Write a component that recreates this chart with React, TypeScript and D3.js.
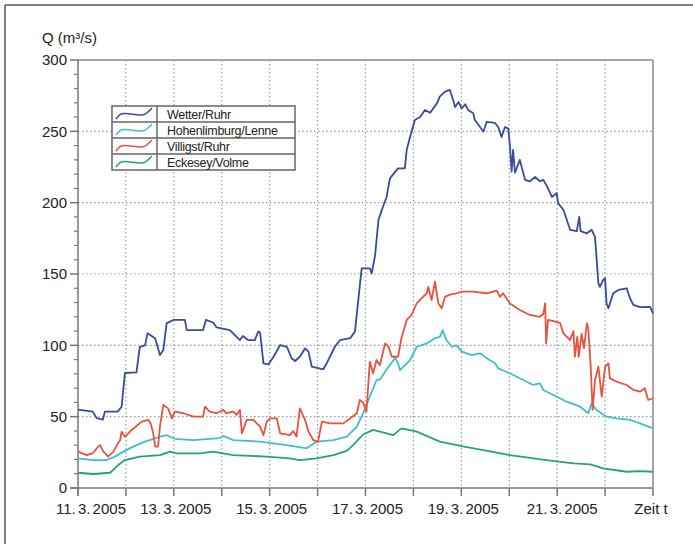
import React from 'react';
import * as d3 from 'd3';

type Pt = [number, number];

const seriesNames = ['Wetter/Ruhr', 'Hohenlimburg/Lenne', 'Villigst/Ruhr', 'Eckesey/Volme'];
const seriesColors = ['#3a4aa0', '#3dbfcf', '#e8523f', '#23a37c'];
const dateLabels = ['11. 3. 2005', '13. 3. 2005', '15. 3. 2005', '17. 3. 2005', '19. 3. 2005', '21. 3. 2005'];
const dateLabelDays = [0, 2, 4, 6, 8, 10];
const endLabel = 'Zeit t';
const yTitle = 'Q (m³/s)';
const yTicks = [0, 50, 100, 150, 200, 250, 300];

// day offset from 11.3.2005, discharge m³/s
const wetterRuhr: Pt[] = [
  [0.0, 55], [0.31, 53.5], [0.39, 49], [0.52, 48], [0.56, 53.5], [0.83, 53.5], [0.91, 57], [0.98, 80.6],
  [1.22, 81], [1.29, 99], [1.4, 100], [1.45, 108.4], [1.61, 105], [1.71, 93.2], [1.78, 96.7], [1.85, 115.4],
  [1.99, 117.8], [2.23, 117.8], [2.27, 110.7], [2.61, 110.7], [2.67, 117.8], [2.82, 116], [2.89, 112.6],
  [3.17, 110.7], [3.31, 106], [3.38, 103.7], [3.44, 106.5], [3.55, 103.7], [3.69, 103.7], [3.76, 109.6],
  [3.8, 109], [3.87, 87.4], [3.97, 86.6], [4.08, 92], [4.22, 100.2], [4.36, 99], [4.46, 90.9], [4.53, 89],
  [4.63, 92], [4.74, 97.9], [4.81, 95.6], [4.88, 85], [5.01, 84], [5.12, 83.2], [5.19, 87.4], [5.36, 99],
  [5.47, 103.7], [5.68, 105], [5.78, 109.6], [5.85, 131.8], [5.92, 154], [6.09, 154], [6.13, 150.5],
  [6.2, 163], [6.27, 187.8], [6.34, 194.9], [6.44, 204], [6.51, 217], [6.58, 220], [6.68, 224], [6.82, 224],
  [6.86, 237], [6.93, 246], [7.03, 258], [7.14, 260], [7.24, 265], [7.35, 263], [7.49, 269.6], [7.55, 274.3],
  [7.66, 277.8], [7.76, 279], [7.83, 272], [7.87, 267], [7.94, 270.6], [8.01, 266], [8.08, 269], [8.14, 265],
  [8.25, 262.6], [8.28, 258], [8.35, 255], [8.46, 249.7], [8.53, 256.7], [8.7, 256], [8.77, 253], [8.84, 246],
  [8.91, 253], [8.98, 252], [9.01, 241.6], [9.05, 221.7], [9.08, 237], [9.12, 221], [9.22, 230], [9.33, 216],
  [9.43, 215], [9.54, 218], [9.64, 215], [9.71, 216], [9.78, 212], [9.89, 204], [9.99, 206.6], [10.02, 199.5],
  [10.13, 195], [10.27, 181], [10.41, 180], [10.46, 190], [10.49, 180], [10.62, 178.5], [10.72, 181],
  [10.79, 176], [10.81, 166.8], [10.86, 143.5], [10.89, 141], [10.96, 145.8], [11.0, 147], [11.03, 129.5],
  [11.07, 126], [11.17, 136.5], [11.28, 138.8], [11.45, 140], [11.52, 133], [11.59, 128.3], [11.73, 126.8],
  [11.94, 127], [12.0, 122.4],
];

const hohenlimburgLenne: Pt[] = [
  [0.0, 20.8], [0.32, 19.6], [0.6, 19.6], [0.77, 22], [0.95, 25.5], [1.15, 29], [1.4, 32.5], [1.71, 36],
  [1.85, 37], [2.02, 34.5], [2.41, 33.6], [2.75, 34.5], [2.96, 35], [3.03, 36.5], [3.24, 33.6], [3.8, 32.5],
  [4.36, 30.1], [4.77, 27.8], [4.98, 32.5], [5.33, 33.6], [5.61, 36], [5.82, 43], [5.95, 52.4], [6.09, 64],
  [6.23, 75.7], [6.3, 76], [6.48, 85], [6.62, 91], [6.68, 87.4], [6.72, 82.7], [6.93, 89.7], [7.07, 99],
  [7.28, 101.4], [7.45, 105], [7.55, 106], [7.61, 110.7], [7.69, 103.7], [7.8, 99], [7.9, 100], [8.01, 95.6],
  [8.22, 93.2], [8.39, 94.4], [8.53, 90.9], [8.7, 87.4], [8.77, 83.9], [9.01, 80.4], [9.22, 76.9], [9.5, 72.2],
  [9.64, 73.4], [9.71, 68.7], [9.92, 65.2], [10.2, 60.5], [10.48, 57], [10.65, 52.4], [10.72, 59.4],
  [10.82, 54.7], [11.03, 50], [11.24, 48.8], [11.52, 47.7], [11.73, 45.3], [12.0, 41.8],
];

const villigstRuhr: Pt[] = [
  [0.0, 25.5], [0.18, 23.1], [0.31, 24.5], [0.39, 27.8], [0.46, 30.1], [0.53, 25.5], [0.63, 22], [0.74, 25.5],
  [0.81, 30], [0.88, 33.6], [0.91, 39.5], [0.98, 35.9], [1.12, 40.7], [1.33, 46.5], [1.47, 47.7], [1.52, 45],
  [1.57, 38.3], [1.61, 29], [1.67, 29], [1.71, 43], [1.78, 58.2], [1.88, 55.8], [1.96, 48.8], [2.02, 53.5],
  [2.2, 52.4], [2.41, 50], [2.61, 50], [2.65, 57], [2.75, 53.5], [2.89, 52.4], [3.03, 54.7], [3.1, 52.4],
  [3.24, 53.5], [3.31, 51.2], [3.38, 54.7], [3.42, 38.3], [3.52, 47.7], [3.66, 47.7], [3.8, 43], [3.87, 37.1],
  [3.94, 46.5], [4.01, 48.8], [4.15, 48.8], [4.22, 38.3], [4.42, 37], [4.49, 40], [4.56, 36], [4.63, 55.8],
  [4.74, 47.7], [4.81, 39.5], [4.91, 33.6], [5.01, 32.5], [5.09, 46.5], [5.26, 45.3], [5.54, 45.3],
  [5.68, 48.8], [5.82, 52.4], [5.88, 61.7], [5.95, 60], [6.02, 53.5], [6.09, 88.5], [6.16, 80.4], [6.23, 89.7],
  [6.3, 86], [6.41, 101.4], [6.48, 99], [6.55, 92], [6.68, 92], [6.75, 105], [6.86, 117.8], [6.96, 121.3],
  [7.07, 129.5], [7.17, 133], [7.28, 136.5], [7.31, 141], [7.38, 131.8], [7.45, 144.6], [7.52, 129.5],
  [7.59, 126], [7.66, 134], [7.76, 135.5], [7.9, 136.5], [8.01, 137.6], [8.25, 137.6], [8.53, 136.5],
  [8.74, 138.3], [8.81, 134], [8.87, 136.5], [9.01, 129.5], [9.22, 124.8], [9.43, 121.3], [9.64, 120],
  [9.71, 122], [9.75, 129.5], [9.77, 101.4], [9.81, 117.8], [9.92, 117], [10.06, 115.7], [10.13, 108.4],
  [10.27, 103.7], [10.34, 110], [10.37, 92], [10.42, 106], [10.45, 92], [10.51, 108], [10.56, 98],
  [10.62, 115.4], [10.65, 112], [10.7, 85], [10.74, 54.7], [10.79, 75.7], [10.86, 85], [10.93, 64],
  [11.0, 85], [11.07, 87.4], [11.1, 77], [11.24, 74.5], [11.45, 72.2], [11.59, 68.7], [11.73, 67.5],
  [11.83, 70], [11.9, 61.7], [12.0, 62.9],
];

const eckeseyVolme: Pt[] = [
  [0.0, 10.7], [0.32, 9.8], [0.67, 10.7], [0.84, 16.1], [0.98, 19.6], [1.29, 22], [1.71, 23.1], [1.92, 25.5],
  [2.06, 24.3], [2.55, 24.3], [2.82, 25.5], [3.24, 23.1], [3.94, 22], [4.42, 20.8], [4.63, 19.6], [4.98, 20.8],
  [5.33, 23.1], [5.61, 26], [5.74, 30], [5.95, 37.5], [6.16, 40.7], [6.3, 39.5], [6.58, 37.1], [6.75, 41.8],
  [6.93, 40.5], [7.07, 39.5], [7.55, 32.5], [8.06, 29], [8.46, 26.6], [9.01, 23.1], [9.78, 19.6],
  [10.34, 17.3], [10.69, 16.5], [10.96, 13.8], [11.45, 11.4], [11.73, 11.8], [12.0, 11.4],
];

const allSeries = [wetterRuhr, hohenlimburgLenne, villigstRuhr, eckeseyVolme];

const W = 693;
const H = 544;
const left = 78;
const right = 653;
const top = 60;
const bottom = 488;
const font = "'Liberation Sans', Arial, Helvetica, sans-serif";

export default function App() {
  const x = d3.scaleLinear().domain([0, 12]).range([left, right]);
  const y = d3.scaleLinear().domain([0, 300]).range([bottom, top]);
  const line = d3.line<Pt>().x((d) => x(d[0])).y((d) => y(d[1])).curve(d3.curveLinear);
  const days = d3.range(0, 13);
  const minor = d3.range(0, 301, 10).filter((v) => v % 50 !== 0);
  const gridDays = d3.range(1, 12);
  const gridVals = yTicks.filter((v) => v > 0 && v < 300);

  // legend geometry
  const lgX = 112, lgY = 106, lgW = 183, rowH = 16, divX = 157;
  const sym = d3.line<Pt>().curve(d3.curveBasis);
  const symPts: Pt[] = [[4, 13], [8, 8], [12, 7], [26, 9], [33, 9], [36, 6], [40, 2]];

  const drawOrder = [3, 1, 2, 0];

  return (
    <svg width={W} height={H} style={{ position: 'absolute', left: 0, top: 0, background: '#fff' }}>
      <rect x={0} y={0} width={W} height={H} fill="#fff" />
      {/* outer frame (top/left) */}
      <line x1={5} y1={5} x2={W} y2={5} stroke="#555" strokeWidth={1.5} />
      <line x1={5} y1={5} x2={5} y2={H} stroke="#555" strokeWidth={1.5} />

      {/* grid */}
      {gridDays.map((d) => (
        <line key={'gx' + d} x1={x(d)} x2={x(d)} y1={top} y2={bottom} stroke="#9a9a9a" strokeWidth={1.2} strokeDasharray="1.5,2.5" />
      ))}
      {gridVals.map((v) => (
        <line key={'gy' + v} x1={left} x2={right} y1={y(v)} y2={y(v)} stroke="#9a9a9a" strokeWidth={1.2} strokeDasharray="1.5,2.5" />
      ))}

      {/* plot frame */}
      <line x1={left} x2={right} y1={top} y2={top} stroke="#888" strokeWidth={1.5} />
      <line x1={right} x2={right} y1={top} y2={bottom} stroke="#888" strokeWidth={1.5} />

      {/* axes */}
      <line x1={left} x2={left} y1={top} y2={bottom + 8} stroke="#777" strokeWidth={1.5} />
      <line x1={left - 8} x2={right} y1={bottom} y2={bottom} stroke="#777" strokeWidth={1.5} />
      {days.map((d) => (
        <line key={'xt' + d} x1={x(d)} x2={x(d)} y1={bottom} y2={bottom + 8} stroke="#777" strokeWidth={1.5} />
      ))}
      {yTicks.map((v) => (
        <line key={'yt' + v} x1={left - 8} x2={left} y1={y(v)} y2={y(v)} stroke="#777" strokeWidth={1.5} />
      ))}
      {minor.map((v) => (
        <line key={'ym' + v} x1={left - 4} x2={left} y1={y(v)} y2={y(v)} stroke="#777" strokeWidth={1.2} />
      ))}

      {/* data */}
      {drawOrder.map((i) => (
        <path key={'s' + i} d={line(allSeries[i]) || ''} fill="none" stroke={seriesColors[i]} strokeWidth={1.8} strokeLinejoin="round" />
      ))}

      {/* y labels */}
      {yTicks.map((v) => (
        <text key={'yl' + v} x={67} y={y(v)} dy="0.36em" textAnchor="end" fontFamily={font} fontSize={15} fill="#222">
          {v}
        </text>
      ))}
      <text x={42} y={43} fontFamily={font} fontSize={15} fill="#222">{yTitle}</text>

      {/* x labels */}
      {dateLabels.map((t, i) => (
        <text key={'xl' + i} x={x(dateLabelDays[i]) + (i === 0 ? 13 : i === 5 ? 5 : 2)} y={514} textAnchor="middle" fontFamily={font} fontSize={15} wordSpacing={-2} fill="#222">
          {t}
        </text>
      ))}
      <text x={x(12) - 2} y={514} textAnchor="middle" fontFamily={font} fontSize={15} fill="#222">{endLabel}</text>

      {/* legend */}
      <g>
        <rect x={lgX} y={lgY} width={lgW} height={rowH * 4} fill="#fff" stroke="#666" strokeWidth={1.5} />
        {[1, 2, 3].map((r) => (
          <line key={'lr' + r} x1={lgX} x2={lgX + lgW} y1={lgY + r * rowH} y2={lgY + r * rowH} stroke="#666" strokeWidth={1.5} />
        ))}
        <line x1={divX} x2={divX} y1={lgY} y2={lgY + rowH * 4} stroke="#666" strokeWidth={1.5} />
        {seriesNames.map((n, i) => (
          <g key={'lg' + i} transform={`translate(${lgX},${lgY + i * rowH})`}>
            <path d={sym(symPts) || ''} fill="none" stroke={seriesColors[i]} strokeWidth={1.5} />
            <text x={55} y={12.5} fontFamily={font} fontSize={12.5} letterSpacing={-0.3} fill="#222">{n}</text>
          </g>
        ))}
      </g>
    </svg>
  );
}
